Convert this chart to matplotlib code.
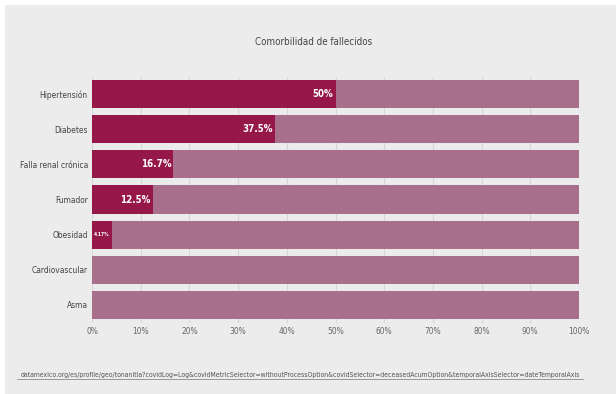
import matplotlib
matplotlib.use("Agg")
import matplotlib.pyplot as plt
from matplotlib.patches import Rectangle
from matplotlib import font_manager

# datos
categorias = ["Hipertensión", "Diabetes", "Falla renal crónica", "Fumador",
              "Obesidad", "Cardiovascular", "Asma"]
valores = [50, 37.5, 16.7, 12.5, 4.17, 0, 0]
etiquetas = ["50%", "37.5%", "16.7%", "12.5%", "4.17%", "", ""]
ticks = list(range(0, 101, 10))
titulo = "Comorbilidad de fallecidos"
enlace = ("datamexico.org/es/profile/geo/tonanitla?covidLog=Log&covidMetricSelector="
          "withoutProcessOption&covidSelector=deceasedAcumOption&temporalAxisSelector="
          "dateTemporalAxis")

# buscar una fuente estrecha si existe
fuentes = font_manager.fontManager.ttflist
nombres = {f.name for f in fuentes}
estirar = "normal"
if "Liberation Sans Narrow" in nombres:
    fuente = "Liberation Sans Narrow"
elif any(f.name == "DejaVu Sans" and f.stretch == "condensed" for f in fuentes):
    fuente = "DejaVu Sans"
    estirar = "condensed"
else:
    fuente = "DejaVu Sans"
plt.rcParams["font.family"] = fuente
plt.rcParams["font.stretch"] = estirar

oscuro = "#951848"
claro = "#a8708c"
fondo = "#ececec"

W, H = 616, 394
fig = plt.figure(figsize=(W / 100, H / 100), dpi=100)
fig.patch.set_facecolor("white")
fig.patches.append(Rectangle((5 / W, 0), 1, 1 - 5 / H, transform=fig.transFigure,
                             facecolor=fondo, edgecolor="none", zorder=-10))

x0, x1 = 92, 579
ytop, ybot = 76.5, 322.5
ax = fig.add_axes([x0 / W, 1 - ybot / H, (x1 - x0) / W, (ybot - ytop) / H])
ax.set_facecolor("none")

pos = list(range(len(categorias)))
ax.barh(pos, [100] * len(pos), height=0.8, color=claro, zorder=2)
ax.barh(pos, valores, height=0.8, color=oscuro, zorder=3)

for y, v, t in zip(pos, valores, etiquetas):
    if not t:
        continue
    if v < 5:
        ax.text(0.3, y, t, ha="left", va="center", color="white",
                fontsize=3.6, fontweight="bold", zorder=4)
    else:
        ax.text(v - 0.4, y, t, ha="right", va="center", color="white",
                fontsize=7, fontweight="bold", zorder=4)

ax.set_xlim(0, 100)
ax.set_ylim(len(pos) - 0.5, -0.5)
ax.set_xticks(ticks)
ax.set_xticklabels([f"{t}%" for t in ticks], fontsize=6, color="#666666")
ax.set_yticks(pos)
ax.set_yticklabels(categorias, fontsize=6, color="#444444")
ax.tick_params(axis="both", length=0, pad=3)
ax.grid(axis="x", color="#d6d6d6", linewidth=0.8, zorder=0)
for s in ax.spines.values():
    s.set_visible(False)

fig.text(314 / W, 1 - 42 / H, titulo, ha="center", va="center",
         fontsize=7, color="#444444")
link = fig.text(300 / W, 1 - 375 / H, enlace, ha="center", va="center",
                fontsize=5, color="#555555")
# ajustar el enlace al ancho de la referencia
r = fig.canvas.get_renderer()
ancho = link.get_window_extent(r).width
link.set_fontsize(5 * 566 / ancho)
fig.add_artist(plt.Line2D([17 / W, 583 / W], [1 - 379 / H] * 2, color="#777777",
                          linewidth=0.5, transform=fig.transFigure))

fig.savefig("out.png", dpi=100)
